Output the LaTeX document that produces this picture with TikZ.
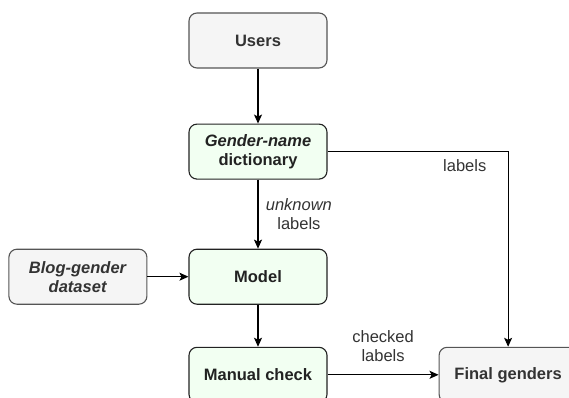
\documentclass[tikz,border=0pt]{standalone}
\usepackage{fontspec}
\setmainfont{Liberation Sans}
\usepackage{xcolor}
\usetikzlibrary{arrows.meta,positioning}
\definecolor{greyfill}{HTML}{F5F5F5}
\definecolor{greyline}{HTML}{555555}
\definecolor{greytext}{HTML}{333333}
\definecolor{greenfill}{HTML}{F2FFF2}
\definecolor{greenline}{HTML}{222222}

\begin{document}
\begin{tikzpicture}[
			node distance=55pt and 41pt,
			font=\fontsize{16.5}{19}\selectfont,
			box/.style={draw,rounded corners=8pt,align=center,minimum width=138pt,minimum height=55pt,inner sep=0pt,line width=1.1pt,font=\fontsize{16.5}{19}\selectfont\bfseries},
			greybox/.style={box,fill=greyfill,draw=greyline,text=greytext},
			greenbox/.style={box,fill=greenfill,draw=greenline,text=greenline},
			arrow/.style={-{Stealth[length=9pt,width=8pt,inset=2pt]},line width=1.1pt},
			lbl/.style={align=center,text=greytext}
			]
			\useasboundingbox (0,0) rectangle (569pt,-398pt);
			\clip (0,0) rectangle (569pt,-398pt);
			\node[greybox] (users) at (258pt,-40.5pt) {Users};
			\node[greenbox, below=of users] (dict) {\textit{Gender-name}\\dictionary};
			\node[greenbox, below=69pt of dict] (model) {Model};
			\node[greybox, left=of model] (blog) {\textit{Blog-gender}\\\textit{dataset}};
			\node[greenbox, below=42pt of model] (check) {Manual check};
			\node[greybox, right=111pt of check] (final) {Final genders};
			\draw[arrow] (users)--(dict);
			\draw[arrow] (dict)--(model) node[lbl, midway, right=4pt] {\textit{unknown}\\labels};
			\draw[arrow] (blog)--(model);
			\draw[arrow] (model)--(check);
			\draw[arrow] (dict.east) -| (final.north) node[lbl, pos=0.38, below=4.5pt] {labels};
			\draw[arrow] (check)--(final) node[lbl, midway, above=9pt] {checked\\labels};
		\end{tikzpicture}
\end{document}
